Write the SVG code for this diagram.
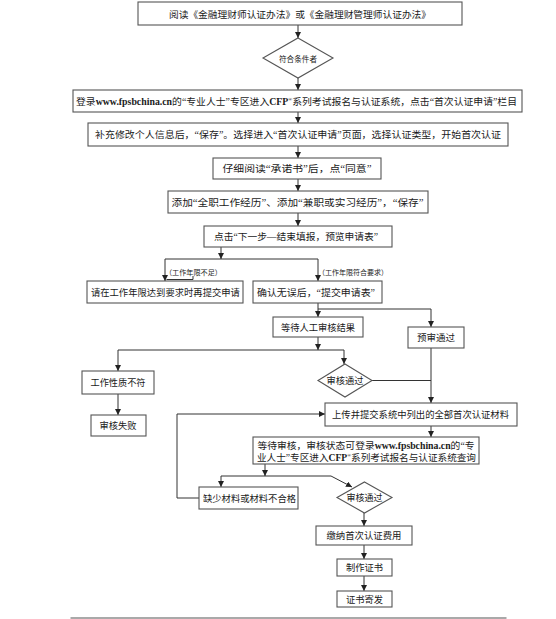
<svg xmlns="http://www.w3.org/2000/svg" width="556" height="619" viewBox="0 0 556 619">
<defs>
<style>
.box{fill:#fff;stroke:#555;stroke-width:1.1}
.t{font-family:"Liberation Serif","Noto Sans CJK SC",serif;font-size:9.5px;fill:#1a1a1a;text-anchor:middle}
.s{font-size:7px}
.b{font-weight:bold}
.c{fill:none;stroke:#333;stroke-width:1}
</style>
<marker id="a" markerUnits="userSpaceOnUse" markerWidth="6" markerHeight="6" refX="5" refY="2.5" orient="auto" viewBox="0 0 5 5"><path d="M0,0 L5,2.5 L0,5 z" fill="#222"/></marker>
</defs>
<rect width="556" height="619" fill="#fff"/>
<g id="connectors">
<path class="c" d="M298,25 V38" marker-end="url(#a)"/>
<path class="c" d="M298,78 V90" marker-end="url(#a)"/>
<path class="c" d="M298,112 V123" marker-end="url(#a)"/>
<path class="c" d="M298,146 V158" marker-end="url(#a)"/>
<path class="c" d="M298,179 V191" marker-end="url(#a)"/>
<path class="c" d="M298,213 V226" marker-end="url(#a)"/>
<path class="c" d="M221,247 V259" marker-end="url(#a)"/>
<path class="c" d="M165,259 H318"/>
<path class="c" d="M165,259 V281" marker-end="url(#a)"/>
<path class="c" d="M318,259 V281" marker-end="url(#a)"/>
<path class="c" d="M166.5,279.5 H193 V276"/>
<path class="c" d="M318,303 V317" marker-end="url(#a)"/>
<path class="c" d="M318,309 H431 V327" marker-end="url(#a)"/>
<path class="c" d="M318,337 V350" marker-end="url(#a)"/>
<path class="c" d="M118,350 H344"/>
<path class="c" d="M118,350 V371" marker-end="url(#a)"/>
<path class="c" d="M344,350 V364" marker-end="url(#a)"/>
<path class="c" d="M118,394 V415" marker-end="url(#a)"/>
<path class="c" d="M431,348 V403" marker-end="url(#a)"/>
<path class="c" d="M372,380.5 H431"/>
<path class="c" d="M199,498 H177 V414 H325" marker-end="url(#a)"/>
<path class="c" d="M431,426 V437" marker-end="url(#a)"/>
<path class="c" d="M265,464 V476" marker-end="url(#a)"/>
<path class="c" d="M221,476 H331 L352,487" marker-end="url(#a)"/>
<path class="c" d="M221,476 V487" marker-end="url(#a)"/>
<path class="c" d="M364,513 V526" marker-end="url(#a)"/>
<path class="c" d="M364,545 V559" marker-end="url(#a)"/>
<path class="c" d="M364,576 V591" marker-end="url(#a)"/>
<text class="t s" x="193.5" y="274.5" textLength="57" lengthAdjust="spacingAndGlyphs">（工作年限不足）</text>
<text class="t s" x="353" y="274.5" textLength="70" lengthAdjust="spacingAndGlyphs">（工作年限符合要求）</text>
</g>
<g id="n1"><rect class="box" x="138" y="2" width="324" height="23"/><text class="t" x="300" y="18" textLength="262" lengthAdjust="spacingAndGlyphs">阅读《金融理财师认证办法》或《金融理财管理师认证办法》</text></g>
<g id="n2"><polygon class="box" points="298,38 333,58 298,78 263,58"/><text class="t" x="298" y="61.5" style="font-size:8px" textLength="38" lengthAdjust="spacingAndGlyphs">符合条件者</text></g>
<g id="n3"><rect class="box" x="73" y="90" width="449" height="22"/><text class="t" x="296.5" y="104.5" textLength="441" lengthAdjust="spacingAndGlyphs">登录<tspan class="b">www.fpsbchina.cn</tspan>的“专业人士”专区进入<tspan class="b">CFP</tspan><tspan class="b" style="font-size:5px" dy="-3.5">®</tspan><tspan dy="3.5">系列考试报名与认证系统，点击“首次认证申请”栏目</tspan></text></g>
<g id="n4"><rect class="box" x="88" y="123" width="420" height="23"/><text class="t" x="298" y="138" textLength="406" lengthAdjust="spacingAndGlyphs">补充修改个人信息后，“保存”。选择进入“首次认证申请”页面，选择认证类型，开始首次认证</text></g>
<g id="n5"><rect class="box" x="213" y="158" width="168" height="21"/><text class="t" x="297" y="172" textLength="149" lengthAdjust="spacingAndGlyphs">仔细阅读“承诺书”后，点“同意”</text></g>
<g id="n6"><rect class="box" x="168" y="191" width="260" height="22"/><text class="t" x="297.5" y="205.5" textLength="252" lengthAdjust="spacingAndGlyphs">添加“全职工作经历”、添加“兼职或实习经历”，“保存”</text></g>
<g id="n7"><rect class="box" x="204" y="226" width="188" height="21"/><text class="t" x="296" y="240" textLength="164" lengthAdjust="spacingAndGlyphs">点击“下一步—结束填报，预览申请表”</text></g>
<g id="n8"><rect class="box" x="87" y="281" width="156" height="22"/><text class="t" x="165.4" y="295.5" textLength="149" lengthAdjust="spacingAndGlyphs">请在工作年限达到要求时再提交申请</text></g>
<g id="n9"><rect class="box" x="253" y="281" width="129" height="22"/><text class="t" x="316" y="295.5" textLength="118" lengthAdjust="spacingAndGlyphs">确认无误后，“提交申请表”</text></g>
<g id="n10"><rect class="box" x="273" y="317" width="90" height="20"/><text class="t" x="318" y="330.5" textLength="74" lengthAdjust="spacingAndGlyphs">等待人工审核结果</text></g>
<g id="n11"><rect class="box" x="408" y="327" width="56" height="21"/><text class="t" x="436" y="341" textLength="38" lengthAdjust="spacingAndGlyphs">预审通过</text></g>
<g id="n12"><polygon class="box" points="345,364 372,380.5 345,397 318,380.5"/><text class="t" x="345" y="384" textLength="37" lengthAdjust="spacingAndGlyphs">审核通过</text></g>
<g id="n13"><rect class="box" x="82" y="371" width="72" height="23"/><text class="t" x="118" y="386" textLength="55" lengthAdjust="spacingAndGlyphs">工作性质不符</text></g>
<g id="n14"><rect class="box" x="91" y="415" width="55" height="21"/><text class="t" x="118" y="429" textLength="37" lengthAdjust="spacingAndGlyphs">审核失败</text></g>
<g id="n15"><rect class="box" x="325" y="403" width="192" height="23"/><text class="t" x="420.5" y="418" textLength="177" lengthAdjust="spacingAndGlyphs">上传并提交系统中列出的全部首次认证材料</text></g>
<g id="n16"><rect class="box" x="253" y="437" width="226" height="27"/><text class="t" x="366" y="448.5" textLength="217" lengthAdjust="spacingAndGlyphs">等待审核，审核状态可登录<tspan class="b">www.fpsbchina.cn</tspan>的“专</text><text class="t" x="366.5" y="460.5" textLength="219" lengthAdjust="spacingAndGlyphs">业人士”专区进入<tspan class="b">CFP</tspan><tspan class="b" style="font-size:5px" dy="-3.5">®</tspan><tspan dy="3.5">系列考试报名与认证系统查询</tspan></text></g>
<g id="n17"><rect class="box" x="199" y="487" width="99" height="22"/><text class="t" x="249.5" y="501.5" textLength="93" lengthAdjust="spacingAndGlyphs">缺少材料或材料不合格</text></g>
<g id="n18"><polygon class="box" points="364.5,482 392,497.5 364.5,513 337,497.5"/><text class="t" x="364.5" y="501" textLength="36" lengthAdjust="spacingAndGlyphs">审核通过</text></g>
<g id="n19"><rect class="box" x="316" y="526" width="96" height="19"/><text class="t" x="364" y="539" textLength="75" lengthAdjust="spacingAndGlyphs">缴纳首次认证费用</text></g>
<g id="n20"><rect class="box" x="337" y="559" width="55" height="17"/><text class="t" x="364.5" y="571" textLength="37" lengthAdjust="spacingAndGlyphs">制作证书</text></g>
<g id="n21"><rect class="box" x="337" y="591" width="55" height="16"/><text class="t" x="364.5" y="602.5" textLength="37" lengthAdjust="spacingAndGlyphs">证书寄发</text></g>
<line x1="70.5" y1="618" x2="506.5" y2="618" stroke="#555" stroke-width="1.2"/>
</svg>
